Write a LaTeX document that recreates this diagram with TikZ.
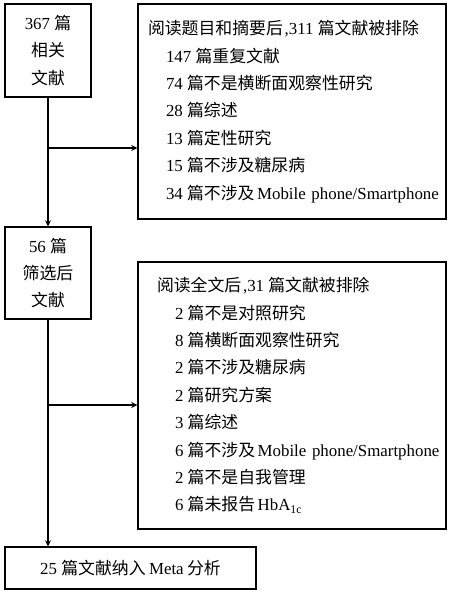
\documentclass[tikz,border=0pt]{standalone}
\usepackage{fontspec}
\setmainfont{Liberation Serif}
\newfontfamily\cjk{Noto Sans CJK SC}
\newcommand{\zh}[1]{{\cjk #1}}
\newcommand{\pian}{\hspace{0.25em}\zh{篇}}
\tikzset{
  box/.style={draw, line width=0.6pt, inner sep=0pt, font=\fontsize{9.6}{15.6}\selectfont},
  listbox/.style={box, align=left, inner xsep=0.1cm, text width=5.96cm, minimum width=6.16cm}
}
\begin{document}
\begin{tikzpicture}[>=stealth, line width=0.6pt]
\useasboundingbox (0,0) rectangle (9,-11.88);
% left column
\node[box, align=center, minimum width=1.72cm, minimum height=1.86cm] (rel) at (0.96,-1.01)
  {367\pian\\ \zh{相关}\\ \zh{文献}};
\node[box, align=center, minimum width=1.72cm, minimum height=1.84cm] (scr) at (0.96,-5.46)
  {56\pian\\ \zh{筛选后}\\ \zh{文献}};
\node[box, minimum width=5.02cm, minimum height=0.84cm] (meta) at (2.61,-11.36)
  {25\pian\zh{文献纳入}\hspace{0.2em}Meta\hspace{0.2em}\zh{分析}};
% excluded records
\node[listbox, minimum height=4.30cm] (ex1) at (5.84,-2.23)
  {\hspace*{0.1cm}\zh{阅读题目和摘要后}\hspace{0.1em},311\pian\zh{文献被排除}\\
   \hspace*{0.46cm}147\pian\zh{重复文献}\\
   \hspace*{0.46cm}74\pian\zh{不是横断面观察性研究}\\
   \hspace*{0.46cm}28\pian\zh{综述}\\
   \hspace*{0.46cm}13\pian\zh{定性研究}\\
   \hspace*{0.46cm}15\pian\zh{不涉及糖尿病}\\
   \hspace*{0.46cm}\mbox{34\pian\zh{不涉及}\hspace{0.15em}Mobile phone/Smartphone}};
\node[listbox, minimum height=5.34cm] (ex2) at (5.84,-7.91)
  {\hspace*{0.28cm}\zh{阅读全文后}\hspace{0.1em},31\pian\zh{文献被排除}\\
   \hspace*{0.64cm}2\pian\zh{不是对照研究}\\
   \hspace*{0.64cm}8\pian\zh{横断面观察性研究}\\
   \hspace*{0.64cm}2\pian\zh{不涉及糖尿病}\\
   \hspace*{0.64cm}2\pian\zh{研究方案}\\
   \hspace*{0.64cm}3\pian\zh{综述}\\
   \hspace*{0.64cm}\mbox{6\pian\zh{不涉及}\hspace{0.15em}Mobile phone/Smartphone}\\
   \hspace*{0.64cm}2\pian\zh{不是自我管理}\\
   \hspace*{0.64cm}6\pian\zh{未报告}\hspace{0.15em}HbA\textsubscript{1c}};
% connectors
\coordinate (j1) at (rel.south |- 0,-2.96);
\coordinate (j2) at (scr.south |- 0,-8.10);
\draw[->] (rel.south) -- (scr.north);
\draw[->] (j1) -- (j1 -| ex1.west);
\draw[->] (scr.south) -- (scr.south |- meta.north);
\draw[->] (j2) -- (j2 -| ex2.west);
\end{tikzpicture}
\end{document}
